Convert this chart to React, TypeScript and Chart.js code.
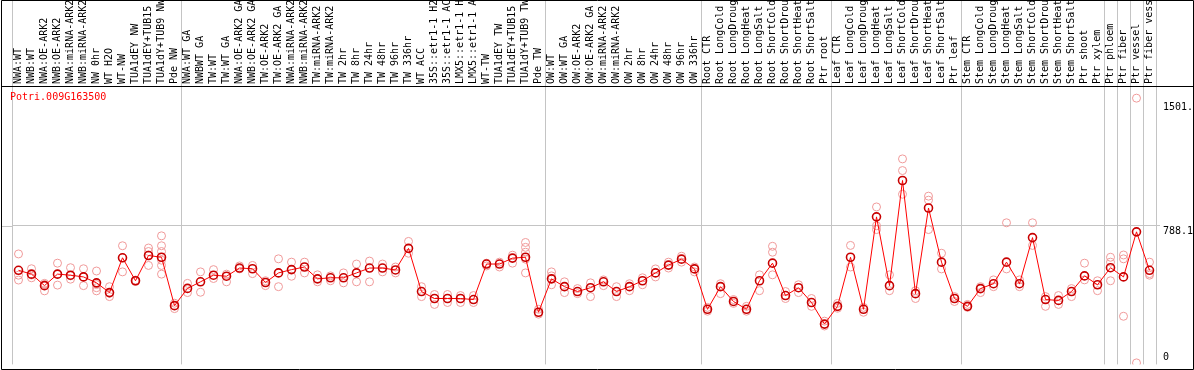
import React, { useEffect, useRef } from 'react';
import { Chart, registerables } from 'chart.js';

Chart.register(...registerables);

const categories = [
  'NWA:WT', 'NWB:WT', 'NWA:OE-ARK2', 'NWB:OE-ARK2', 'NWA:miRNA-ARK2', 'NWB:miRNA-ARK2', 'NW 0hr', 'WT H2O', 'WT-NW',
  'TUA1dEY NW', 'TUA1dEY+TUB15', 'TUA1dY+TUB9 NW', 'Pde NW',
  'NWA:WT GA', 'NWBWT GA', 'TW:WT', 'TW:WT GA', 'NWA:OE-ARK2 GA', 'NWB:OE-ARK2 GA', 'TW:OE-ARK2', 'TW:OE-ARK2 GA',
  'NWA:miRNA-ARK2', 'NWB:miRNA-ARK2', 'TW:miRNA-ARK2', 'TW:miRNA-ARK2', 'TW 2hr', 'TW 8hr', 'TW 24hr', 'TW 48hr',
  'TW 96hr', 'TW 336hr', 'WT ACC', '35S::etr1-1 H2', '35S::etr1-1 AC', 'LMX5::etr1-1 H', 'LMX5::etr1-1 A', 'WT-TW',
  'TUA1dEY TW', 'TUA1dEY+TUB15', 'TUA1dY+TUB9 TW', 'Pde TW',
  'OW:WT', 'OW:WT GA', 'OW:OE-ARK2', 'OW:OE-ARK2 GA', 'OW:miRNA-ARK2', 'OW:miRNA-ARK2', 'OW 2hr', 'OW 8hr', 'OW 24hr',
  'OW 48hr', 'OW 96hr', 'OW 336hr',
  'Root CTR', 'Root LongCold', 'Root LongDroug', 'Root LongHeat', 'Root LongSalt', 'Root ShortCold', 'Root ShortDrou',
  'Root ShortHeat', 'Root ShortSalt', 'Ptr root',
  'Leaf CTR', 'Leaf LongCold', 'Leaf LongDroug', 'Leaf LongHeat', 'Leaf LongSalt', 'Leaf ShortCold', 'Leaf ShortDrou',
  'Leaf ShortHeat', 'Leaf ShortSalt', 'Ptr leaf',
  'Stem CTR', 'Stem LongCold', 'Stem LongDroug', 'Stem LongHeat', 'Stem LongSalt', 'Stem ShortCold', 'Stem ShortDrou',
  'Stem ShortHeat', 'Stem ShortSalt', 'Ptr shoot', 'Ptr xylem',
  'Ptr phloem', 'Ptr fiber', 'Ptr vessel', 'Ptr fiber vess',
];

const meanValues = [
  532, 510, 444, 510, 504, 494, 460, 404, 604, 472, 617, 607, 329,
  428, 466, 504, 498, 545, 541, 462, 517, 536, 551, 483, 489, 489, 517, 545, 545, 534, 658, 410, 370, 370, 370, 364,
  568, 568, 602, 607, 291,
  483, 438, 410, 432, 466, 410, 438, 472, 517, 562, 596, 540,
  308, 438, 353, 308, 472, 573, 387, 432, 347, 223,
  325, 607, 308, 839, 444, 1048, 398, 890, 579, 370,
  325, 427, 455, 579, 455, 720, 364, 359, 410, 500, 449,
  547, 494, 753, 532,
];

const replicateValues = [
  [626, 504, 476], [541, 489, 505], [457, 414, 450], [573, 447, 510], [547, 481, 500], [541, 444, 494],
  [528, 432, 414, 450], [438, 381, 400], [673, 523, 604], [472, 468, 476], [660, 560, 640, 620],
  [730, 673, 640, 560, 510, 590], [343, 329, 312],
  [457, 404], [523, 406], [536, 485], [510, 466], [557, 540], [560, 513], [472, 444], [598, 438], [579, 498],
  [579, 517], [506, 466], [500, 472], [517, 460], [568, 466], [585, 466], [568, 523], [551, 517], [698, 630],
  [438, 381], [393, 336], [393, 347], [387, 347], [387, 347], [573, 557], [579, 551], [619, 573],
  [692, 664, 636, 596, 517], [308, 280],
  [523, 500, 449], [466, 404], [427, 398], [460, 381], [477, 444], [438, 381], [455, 415], [489, 449],
  [540, 494], [579, 545], [613, 579], [551, 523],
  [319, 297], [455, 398], [364, 342], [325, 297], [506, 415], [670, 636, 506], [410, 370], [449, 404],
  [370, 325], [240, 212],
  [342, 314], [675, 551], [319, 291], [896, 788, 766], [506, 415], [1172, 1105, 969], [415, 370],
  [958, 935, 766], [630, 540], [381, 353],
  [336, 319], [438, 404], [477, 438], [805, 540], [477, 438], [805, 675], [381, 325], [387, 336], [427, 381],
  [573, 477], [472, 415],
  [607, 579, 472], [620, 598, 268], [1521, 0], [579, 513, 504],
];

const yTickValues = [0, 788.1, 1501.4];
const yTickLabels = ['0', '788.1', '1501.4'];
const groupStarts = [0, 13, 41, 53, 63, 73, 84, 85, 86, 87];
const geneTitle = 'Potri.009G163500';

const MONO = 'DejaVu Sans Mono';
const GRID = '#c4c4c4';

const framePlugin = {
  id: 'frame',
  afterDraw(chart: any) {
    const { ctx, chartArea, scales } = chart;
    ctx.save();
    const gy = Math.round(scales.y.getPixelForValue(yTickValues[1])) + 0.5;
    ctx.strokeStyle = GRID;
    ctx.lineWidth = 1;
    ctx.beginPath();
    ctx.moveTo(1, gy);
    ctx.lineTo(chartArea.left, gy);
    ctx.stroke();
    ctx.strokeStyle = '#000';
    ctx.beginPath();
    ctx.rect(1.5, 0.5, 1192, 369);
    ctx.moveTo(1, 86.5);
    ctx.lineTo(1193, 86.5);
    ctx.stroke();
    ctx.fillStyle = '#ff0000';
    ctx.font = `10px "${MONO}"`;
    ctx.textBaseline = 'top';
    ctx.textAlign = 'left';
    ctx.fillText(geneTitle, 10, 92);
    ctx.restore();
  },
};

export default function App() {
  const canvasRef = useRef<HTMLCanvasElement | null>(null);

  useEffect(() => {
    const canvas = canvasRef.current;
    if (!canvas) return;
    const repPoints: { x: number; y: number }[] = [];
    replicateValues.forEach((reps, i) => reps.forEach((v) => repPoints.push({ x: i, y: v })));

    const chart = new Chart(canvas, {
      type: 'line',
      data: {
        labels: categories,
        datasets: [
          {
            data: meanValues,
            borderColor: '#ff0000',
            borderWidth: 1,
            pointRadius: 4,
            pointBorderWidth: 1.6,
            pointBorderColor: '#c80000',
            pointBackgroundColor: 'rgba(0,0,0,0)',
            tension: 0,
          },
          {
            data: repPoints as any,
            parsing: false,
            showLine: false,
            pointRadius: 4,
            pointBorderWidth: 1,
            pointBorderColor: '#f09a9a',
            pointBackgroundColor: 'rgba(0,0,0,0)',
          } as any,
        ],
      },
      plugins: [framePlugin],
      options: {
        animation: false,
        responsive: false,
        events: [],
        layout: { padding: { left: 12, right: 0, top: 0, bottom: 1 } },
        plugins: { legend: { display: false }, tooltip: { enabled: false }, title: { display: false } },
        scales: {
          x: {
            type: 'category',
            position: 'top',
            offset: true,
            grid: {
              offset: true,
              drawTicks: true,
              tickLength: 86,
              lineWidth: 1,
              color: (ctx: any) => {
                if (ctx.type !== 'tick') return GRID;
                return groupStarts.includes(ctx.index) ? GRID : 'rgba(0,0,0,0)';
              },
            },
            border: { display: false },
            ticks: {
              autoSkip: false,
              minRotation: 90,
              maxRotation: 90,
              padding: -83,
              color: '#000',
              font: { family: MONO, size: 10, lineHeight: 0 },
            },
            afterFit: (s: any) => {
              s.height = 87;
              s.paddingLeft = 0;
              s.paddingRight = 0;
            },
          },
          y: {
            type: 'linear',
            position: 'right',
            min: -8.5,
            max: 1585,
            afterBuildTicks: (s: any) => {
              s.ticks = yTickValues.map((v) => ({ value: v }));
            },
            grid: {
              drawTicks: true,
              tickLength: 4,
              color: (ctx: any) => (ctx.tick && ctx.tick.value === yTickValues[1] ? GRID : 'rgba(0,0,0,0)'),
            },
            border: { display: false },
            ticks: {
              padding: 3,
              color: '#000',
              font: { family: MONO, size: 10 },
              callback: (_v: any, i: number) => (i === 0 ? [yTickLabels[0], ''] : ['', yTickLabels[i]]),
            },
            afterFit: (s: any) => {
              s.width = 38;
              s.paddingTop = 0;
              s.paddingBottom = 0;
            },
          },
        },
      },
    });
    return () => chart.destroy();
  }, []);

  return (
    <div style={{ position: 'fixed', left: 0, top: 0, width: 1194, height: 370, background: '#fff' }}>
      <canvas ref={canvasRef} width={1194} height={370} style={{ display: 'block' }} />
    </div>
  );
}
